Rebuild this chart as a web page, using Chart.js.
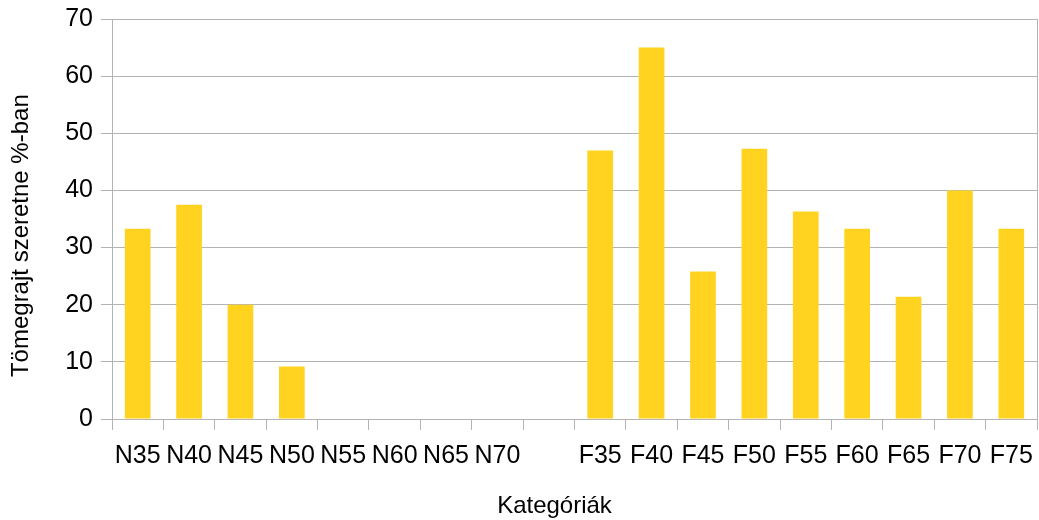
<!DOCTYPE html>
<html>
<head>
<meta charset="utf-8">
<script src="https://cdn.jsdelivr.net/npm/chart.js@4"></script>
<style>
    body { margin: 0; background: #fff; }
    #wrap { width: 1039px; height: 520px; }
</style>
</head>
<body>
<div id="wrap"><canvas id="myChart"></canvas></div>
<script>
const categories = ["N35", "N40", "N45", "N50", "N55", "N60", "N65", "N70", "",
    "F35", "F40", "F45", "F50", "F55", "F60", "F65", "F70", "F75"];
const values = [33.3, 37.5, 20, 9.2, 0, 0, 0, 0, null,
    47, 65, 25.8, 47.3, 36.3, 33.3, 21.4, 40, 33.3];
const yTicks = [0, 10, 20, 30, 40, 50, 60, 70];

const gridColor = "#b3b3b3";
const nb = "\u00a0";

const ctx = document.getElementById("myChart");

const chart = new Chart(ctx, {
    type: "bar",
    data: {
        labels: categories,
        datasets: [
            {
                data: values,
                backgroundColor: "#ffd320",
                borderWidth: 0,
                barPercentage: 0.5,
                categoryPercentage: 1,
            },
        ],
    },
    options: {
        responsive: true,
        maintainAspectRatio: false,
        animation: false,
        layout: {
            padding: { top: 19, right: 2, left: 0, bottom: 0 },
        },
        plugins: {
            legend: { display: false },
            tooltip: { enabled: false },
        },
        scales: {
            x: {
                offset: true,
                grid: {
                    offset: true,
                    drawOnChartArea: false,
                    drawTicks: true,
                    tickLength: 11,
                    color: gridColor,
                },
                border: { color: gridColor },
                ticks: {
                    color: "#000",
                    font: { family: "Liberation Sans", size: 25 },
                    maxRotation: 0,
                    autoSkip: false,
                    padding: 11,
                },
                title: {
                    display: true,
                    text: "Kategóriák" + nb.repeat(6),
                    color: "#000",
                    font: { family: "Liberation Sans", size: 24, lineHeight: 1.1 },
                    padding: { top: 0, bottom: 0 },
                },
                afterFit: (scale) => {
                    scale.height = 101;
                    scale.paddingLeft = 0;
                    scale.paddingRight = 0;
                },
            },
            y: {
                min: 0,
                max: 70,
                afterBuildTicks: (scale) => {
                    scale.ticks = yTicks.map((v) => ({ value: v }));
                },
                grid: {
                    color: gridColor,
                    tickLength: 11,
                },
                border: { color: gridColor },
                ticks: {
                    color: "#000",
                    font: { family: "Liberation Sans", size: 25 },
                    padding: 8,
                },
                title: {
                    display: true,
                    text: "Tömegrajt szeretne %-ban" + nb.repeat(5),
                    color: "#000",
                    font: { family: "Liberation Sans", size: 24, lineHeight: 1.2 },
                    padding: { top: 7, bottom: 0 },
                },
                afterFit: (scale) => {
                    scale.width = 112;
                    scale.paddingTop = 0;
                    scale.paddingBottom = 0;
                },
            },
            yRight: {
                position: "right",
                min: 0,
                max: 70,
                grid: { display: false, drawTicks: false },
                ticks: { display: false },
                border: { display: true, color: gridColor },
                afterFit: (scale) => {
                    scale.width = 0;
                    scale.paddingTop = 0;
                    scale.paddingBottom = 0;
                },
            },
        },
    },
});
</script>
</body>
</html>
